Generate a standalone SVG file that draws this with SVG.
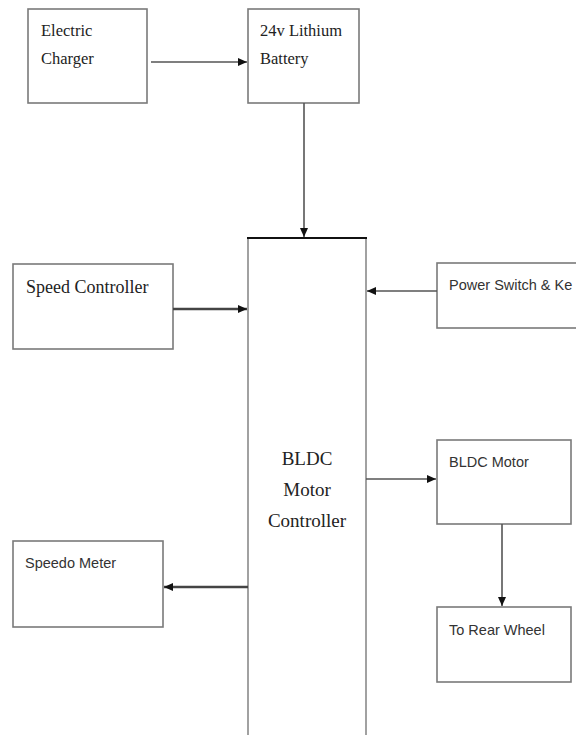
<svg xmlns="http://www.w3.org/2000/svg" width="576" height="735" viewBox="0 0 576 735">
<style>
.box{fill:#fff;stroke:#7a7a7a;stroke-width:1.6}
.serif{font-family:"Liberation Serif","Times New Roman",serif;fill:#222}
.sans{font-family:"Liberation Sans",Arial,sans-serif;fill:#333;font-size:14.5px}
.ln{stroke:#555;stroke-width:1.6;fill:none}
.thick{stroke:#444;stroke-width:2.4;fill:none}
</style>
<defs>
<marker id="ah" markerWidth="10" markerHeight="10" refX="9" refY="5" orient="auto" markerUnits="userSpaceOnUse">
<path d="M0,1 L9,5 L0,9 Z" fill="#111"/>
</marker>
</defs>
<rect width="576" height="735" fill="#fff"/>

<g id="charger">
<rect class="box" x="28" y="9" width="119" height="94"/>
<text class="serif" x="41" y="36" font-size="16.5">Electric</text>
<text class="serif" x="41" y="64" font-size="16.5">Charger</text>
</g>

<g id="battery">
<rect class="box" x="248" y="9" width="111" height="94"/>
<text class="serif" x="260" y="36" font-size="16.5">24v Lithium</text>
<text class="serif" x="260" y="64" font-size="16.5">Battery</text>
</g>

<g id="controller">
<line x1="248" y1="238" x2="248" y2="735" stroke="#8a8a8a" stroke-width="1.6"/>
<line x1="366" y1="238" x2="366" y2="735" stroke="#8a8a8a" stroke-width="1.6"/>
<line x1="247" y1="238" x2="367" y2="238" stroke="#111" stroke-width="2.2"/>
<text class="serif" x="307" y="465" font-size="19" text-anchor="middle">BLDC</text>
<text class="serif" x="307" y="496" font-size="19" text-anchor="middle">Motor</text>
<text class="serif" x="307" y="527" font-size="19" text-anchor="middle">Controller</text>
</g>

<g id="speed">
<rect class="box" x="13" y="264" width="160" height="85"/>
<text class="serif" x="26" y="293" font-size="18">Speed Controller</text>
</g>

<g id="power">
<rect class="box" x="437" y="263" width="160" height="65"/>
<text class="sans" x="449" y="290">Power Switch &amp; Ke</text>
</g>

<g id="motor">
<rect class="box" x="437" y="440" width="134" height="84"/>
<text class="sans" x="449" y="467">BLDC Motor</text>
</g>

<g id="wheel">
<rect class="box" x="437" y="607" width="134" height="75"/>
<text class="sans" x="449" y="635">To Rear Wheel</text>
</g>

<g id="speedo">
<rect class="box" x="13" y="541" width="150" height="86"/>
<text class="sans" x="25" y="568">Speedo Meter</text>
</g>

<g id="connectors">
<line class="ln" x1="151" y1="62" x2="247" y2="62" marker-end="url(#ah)"/>
<line class="ln" x1="304" y1="103" x2="304" y2="237" marker-end="url(#ah)"/>
<line class="thick" x1="173" y1="309" x2="247" y2="309" marker-end="url(#ah)"/>
<line class="ln" x1="437" y1="291" x2="367" y2="291" marker-end="url(#ah)"/>
<line class="ln" x1="366" y1="479" x2="436" y2="479" marker-end="url(#ah)"/>
<line class="ln" x1="502" y1="524" x2="502" y2="606" marker-end="url(#ah)"/>
<line class="thick" x1="248" y1="587" x2="164" y2="587" marker-end="url(#ah)"/>
</g>
</svg>
